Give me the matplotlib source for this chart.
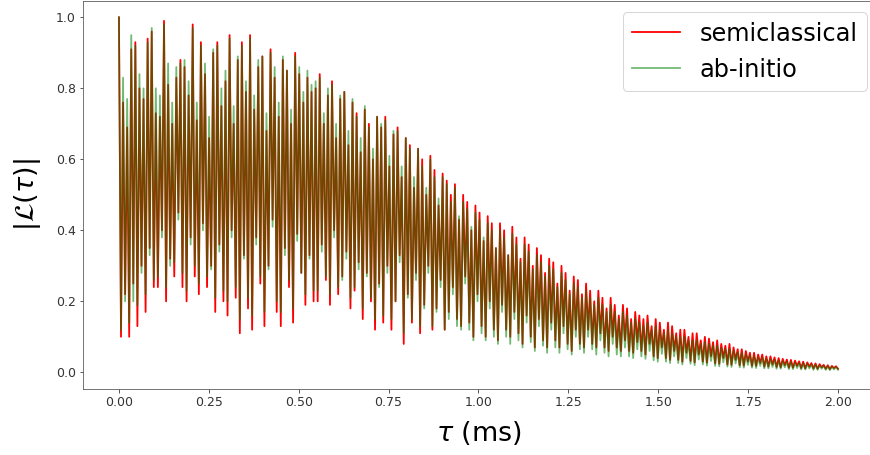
import numpy as np
import matplotlib
matplotlib.use("Agg")
import matplotlib.pyplot as plt

# Local maxima / minima of |L(tau)| (16 oscillations per row)
semi_peaks = [
    1.00, 0.76, 0.69, 0.91, 0.93, 0.80, 0.77, 0.94, 0.96, 0.73, 0.72, 0.99, 0.81, 0.70, 0.83, 0.88,
    0.86, 0.78, 0.98, 0.71, 0.93, 0.84, 0.66, 0.90, 0.93, 0.75, 0.82, 0.95, 0.70, 0.88, 0.93, 0.79,
    0.95, 0.74, 0.86, 0.89, 0.68, 0.91, 0.83, 0.72, 0.88, 0.85, 0.70, 0.90, 0.84, 0.76, 0.83, 0.79,
    0.80, 0.84, 0.70, 0.78, 0.82, 0.66, 0.77, 0.79, 0.64, 0.76, 0.73, 0.62, 0.74, 0.70, 0.60, 0.72,
    0.69, 0.72, 0.58, 0.67, 0.69, 0.55, 0.66, 0.64, 0.52, 0.63, 0.60, 0.50, 0.61, 0.57, 0.47, 0.56,
    0.54, 0.50, 0.53, 0.43, 0.50, 0.48, 0.40, 0.47, 0.45, 0.37, 0.44, 0.42, 0.35, 0.42, 0.40, 0.33,
    0.41, 0.38, 0.32, 0.38, 0.36, 0.30, 0.35, 0.33, 0.28, 0.32, 0.31, 0.25, 0.30, 0.28, 0.23, 0.27,
    0.26, 0.22, 0.25, 0.23, 0.20, 0.23, 0.21, 0.18, 0.21, 0.19, 0.16, 0.19, 0.18, 0.15, 0.17, 0.16,
    0.15, 0.16, 0.13, 0.15, 0.14, 0.12, 0.14, 0.13, 0.11, 0.12, 0.12, 0.10, 0.11, 0.11, 0.09, 0.10,
    0.095, 0.085, 0.09, 0.08, 0.075, 0.08, 0.07, 0.065, 0.065, 0.06, 0.055, 0.055, 0.05, 0.05, 0.045, 0.045,
    0.042, 0.04, 0.038, 0.036, 0.035, 0.033, 0.031, 0.030, 0.028, 0.026, 0.025, 0.023, 0.021, 0.020, 0.018, 0.017,
]
semi_troughs = [
    0.10, 0.22, 0.10, 0.25, 0.13, 0.30, 0.17, 0.35, 0.24, 0.24, 0.40, 0.20, 0.32, 0.27, 0.45, 0.24,
    0.20, 0.38, 0.27, 0.22, 0.42, 0.24, 0.30, 0.17, 0.36, 0.20, 0.16, 0.40, 0.21, 0.11, 0.33, 0.18,
    0.12, 0.38, 0.25, 0.13, 0.30, 0.43, 0.17, 0.13, 0.35, 0.24, 0.14, 0.39, 0.28, 0.19, 0.33, 0.20,
    0.20, 0.36, 0.26, 0.19, 0.40, 0.22, 0.27, 0.34, 0.18, 0.23, 0.31, 0.15, 0.28, 0.20, 0.12, 0.25,
    0.14, 0.30, 0.12, 0.20, 0.33, 0.08, 0.22, 0.14, 0.28, 0.11, 0.19, 0.30, 0.12, 0.18, 0.26, 0.12,
    0.17, 0.24, 0.15, 0.13, 0.27, 0.14, 0.10, 0.22, 0.13, 0.10, 0.20, 0.12, 0.09, 0.19, 0.12, 0.10,
    0.17, 0.11, 0.08, 0.16, 0.10, 0.07, 0.15, 0.09, 0.07, 0.14, 0.09, 0.07, 0.13, 0.08, 0.06, 0.12,
    0.08, 0.07, 0.12, 0.08, 0.07, 0.11, 0.07, 0.06, 0.10, 0.07, 0.06, 0.09, 0.06, 0.055, 0.085, 0.06,
    0.05, 0.08, 0.045, 0.04, 0.07, 0.04, 0.035, 0.06, 0.035, 0.03, 0.055, 0.032, 0.028, 0.05, 0.03, 0.027,
    0.045, 0.025, 0.024, 0.04, 0.022, 0.021, 0.035, 0.02, 0.019, 0.03, 0.018, 0.018, 0.026, 0.016, 0.016, 0.022,
    0.015, 0.014, 0.02, 0.013, 0.013, 0.018, 0.012, 0.011, 0.016, 0.011, 0.010, 0.014, 0.010, 0.009, 0.012, 0.010,
]
abin_peaks = [
    1.00, 0.83, 0.77, 0.95, 0.92, 0.84, 0.80, 0.93, 0.97, 0.80, 0.78, 0.98, 0.87, 0.76, 0.86, 0.87,
    0.88, 0.82, 0.97, 0.76, 0.92, 0.87, 0.72, 0.91, 0.92, 0.80, 0.85, 0.94, 0.75, 0.89, 0.92, 0.82,
    0.94, 0.78, 0.88, 0.89, 0.73, 0.90, 0.86, 0.76, 0.89, 0.85, 0.74, 0.89, 0.86, 0.79, 0.85, 0.81,
    0.82, 0.83, 0.73, 0.80, 0.81, 0.70, 0.78, 0.79, 0.68, 0.77, 0.72, 0.66, 0.75, 0.69, 0.63, 0.72,
    0.70, 0.71, 0.61, 0.68, 0.68, 0.58, 0.66, 0.63, 0.55, 0.63, 0.58, 0.52, 0.60, 0.55, 0.49, 0.55,
    0.53, 0.48, 0.52, 0.44, 0.48, 0.46, 0.41, 0.45, 0.43, 0.38, 0.42, 0.40, 0.35, 0.40, 0.38, 0.33,
    0.39, 0.36, 0.31, 0.36, 0.34, 0.29, 0.33, 0.31, 0.27, 0.30, 0.29, 0.24, 0.28, 0.26, 0.22, 0.25,
    0.24, 0.21, 0.23, 0.21, 0.19, 0.21, 0.19, 0.17, 0.19, 0.17, 0.15, 0.17, 0.16, 0.14, 0.15, 0.14,
    0.13, 0.14, 0.12, 0.13, 0.12, 0.11, 0.12, 0.11, 0.10, 0.10, 0.10, 0.09, 0.09, 0.09, 0.08, 0.085,
    0.08, 0.075, 0.075, 0.068, 0.065, 0.066, 0.06, 0.056, 0.055, 0.05, 0.047, 0.046, 0.042, 0.041, 0.038, 0.037,
    0.035, 0.033, 0.031, 0.030, 0.029, 0.027, 0.026, 0.025, 0.023, 0.022, 0.021, 0.019, 0.018, 0.017, 0.016, 0.015,
]
abin_troughs = [
    0.12, 0.20, 0.14, 0.20, 0.19, 0.28, 0.22, 0.33, 0.26, 0.27, 0.38, 0.24, 0.30, 0.31, 0.43, 0.28,
    0.23, 0.36, 0.30, 0.25, 0.40, 0.27, 0.29, 0.21, 0.34, 0.23, 0.20, 0.38, 0.24, 0.15, 0.32, 0.21,
    0.16, 0.36, 0.27, 0.17, 0.29, 0.41, 0.20, 0.17, 0.33, 0.26, 0.18, 0.37, 0.28, 0.22, 0.32, 0.23,
    0.23, 0.34, 0.27, 0.22, 0.38, 0.24, 0.26, 0.32, 0.21, 0.24, 0.29, 0.18, 0.27, 0.21, 0.15, 0.24,
    0.16, 0.28, 0.15, 0.20, 0.31, 0.11, 0.21, 0.15, 0.26, 0.13, 0.18, 0.28, 0.13, 0.17, 0.24, 0.12,
    0.15, 0.22, 0.13, 0.12, 0.25, 0.12, 0.09, 0.20, 0.11, 0.09, 0.18, 0.10, 0.08, 0.17, 0.10, 0.08,
    0.15, 0.09, 0.07, 0.14, 0.085, 0.06, 0.13, 0.075, 0.055, 0.12, 0.07, 0.055, 0.11, 0.065, 0.05, 0.10,
    0.065, 0.055, 0.10, 0.065, 0.05, 0.09, 0.055, 0.045, 0.08, 0.05, 0.045, 0.07, 0.045, 0.04, 0.065, 0.045,
    0.038, 0.06, 0.034, 0.03, 0.052, 0.03, 0.026, 0.045, 0.026, 0.022, 0.04, 0.024, 0.02, 0.036, 0.022, 0.019,
    0.032, 0.018, 0.017, 0.028, 0.016, 0.015, 0.025, 0.014, 0.013, 0.021, 0.013, 0.012, 0.018, 0.011, 0.011, 0.015,
    0.010, 0.010, 0.014, 0.009, 0.009, 0.012, 0.008, 0.008, 0.011, 0.007, 0.007, 0.010, 0.007, 0.006, 0.008, 0.007,
]
T_MAX = 2.0  # ms


def interleave(peaks, troughs):
    out = np.empty(2 * len(peaks))
    out[0::2] = peaks
    out[1::2] = troughs
    return out


semi = interleave(semi_peaks, semi_troughs)
abin = interleave(abin_peaks, abin_troughs)
tau = np.linspace(0, T_MAX, semi.size)

fig = plt.figure(figsize=(870 / 72, 455 / 72), dpi=72)
ax = fig.add_axes([83 / 870, 66 / 455, 791 / 870, 388 / 455])

ax.plot(tau, semi, color="red", lw=1.8, label="semiclassical")
ax.plot(tau, abin, color="green", lw=1.8, alpha=0.55, label="ab-initio")

ax.set_xlim(-0.1, 2.1)
ax.set_ylim(-0.047, 1.046)
ax.set_xticks(np.arange(0, 2.01, 0.25))
ax.set_yticks(np.arange(0, 1.01, 0.2))
ax.tick_params(labelsize=12.5, colors="#333333")
for sp in ax.spines.values():
    sp.set_color("#555555")
ax.set_xlabel(r"$\tau$ (ms)", fontsize=27, labelpad=10)
ax.set_ylabel(r"$|\mathcal{L}(\tau)|$", fontsize=27, labelpad=13)

ax.legend(fontsize=24, loc="upper right", bbox_to_anchor=(867 / 870, 1 - 12 / 455),
          bbox_transform=fig.transFigure, borderaxespad=0)

fig.savefig("out.png", dpi=72)
